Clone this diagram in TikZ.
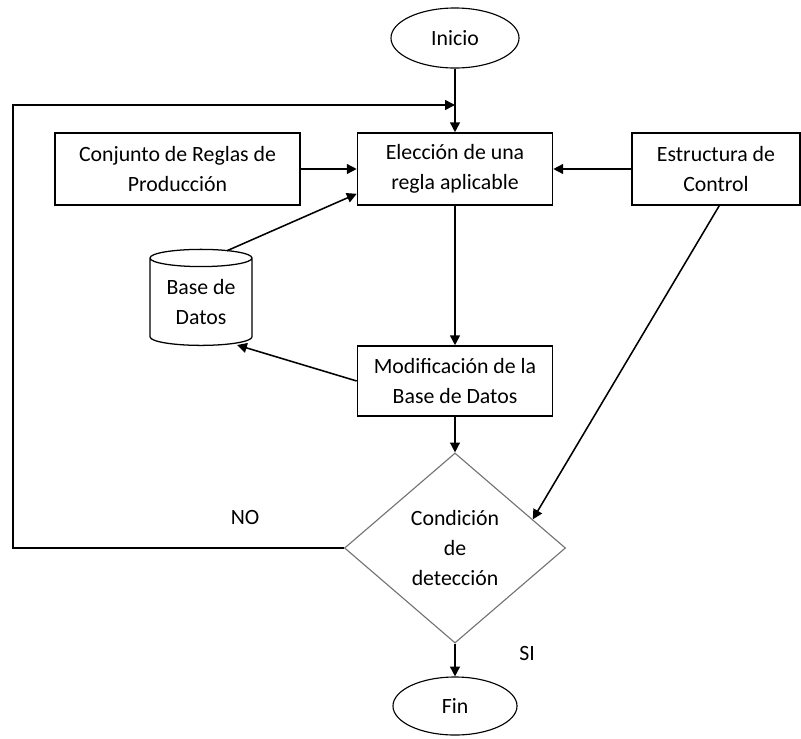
\documentclass[tikz,border=0pt]{standalone}
\usepackage{fontspec}
\setmainfont{Carlito}
\usetikzlibrary{calc, positioning, shapes.geometric, arrows.meta}

\begin{document}
\begin{tikzpicture}[x=0.025cm, y=-0.025cm,
    every node/.style={font=\fontsize{15.5}{21}\selectfont, align=center},
    box/.style={draw, line width=1.1pt, minimum height=1.8cm, inner sep=2pt},
    term/.style={draw, ellipse, line width=0.8pt, inner sep=0pt},
    arr/.style={-{Triangle[length=7pt, width=7pt]}, line width=1.1pt}]
    \useasboundingbox (0,0) rectangle (801,738);
    % terminales
    \node[term, minimum width=3.2cm, minimum height=1.5cm] (start) at (455,38) {Inicio};
    \node[term, minimum width=3.1cm, minimum height=1.45cm] (finish) at (455,706) {Fin};
    % cajas
    \node[box, minimum width=6.125cm] (rules) at (177.5,169) {Conjunto de Reglas de\\Producción};
    \node[box, minimum width=4.875cm] (choice) at (455,169) {Elección de una\\regla aplicable};
    \node[box, minimum width=4.2cm] (ctrl) at (716,169) {Estructura de\\Control};
    \node[box, minimum width=4.875cm, minimum height=1.75cm] (mod) at (455,381) {Modificación de la\\Base de Datos};
    \node[draw, cylinder, shape border rotate=90, aspect=0.25, line width=0.9pt,
        minimum width=2.55cm, minimum height=2.4cm, inner sep=0pt] (db) at (201,302) {Base de\\Datos};
    \node[draw=black!55, diamond, aspect=1.16, line width=0.8pt, inner sep=0pt,
        minimum width=5.525cm, minimum height=4.75cm] (cond) at (455,548) {Condición\\de\\detección};
    % etiquetas
    \node (no) at (245,517) {NO};
    \node (si) at (527,653) {SI};
    \coordinate (loopc) at (13,105);
    \coordinate (join) at (455,105);
    % conexiones
    \draw[arr] (start) -- (choice);
    \draw[arr] (cond.west) -| (loopc) -- (join);
    \draw[arr] (rules) -- (choice);
    \draw[arr] (ctrl) -- (choice);
    \draw[arr] ($(db.north)+(26,2)$) -- ($(choice.south west)+(0,-12)$);
    \draw[arr] (choice) -- (mod);
    \draw[arr] (mod.west) -- ($(db.south)+(36,-1)$);
    \draw[arr] (mod) -- (cond);
    \draw[arr] ($(ctrl.south west)+(88,0)$) -- ($(cond.east)!0.3!(cond.north)$);
    \draw[arr] (cond) -- (finish);
\end{tikzpicture}
\end{document}
